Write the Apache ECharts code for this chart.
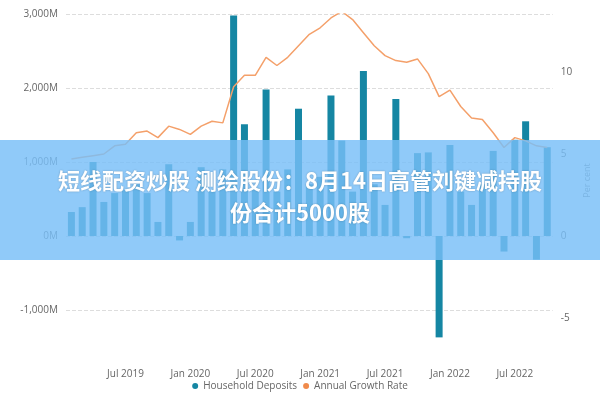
<!DOCTYPE html>
<html>
<head>
<meta charset="utf-8">
<script src="https://cdn.jsdelivr.net/npm/echarts@6/dist/echarts.min.js"></script>
<style>html,body{margin:0;padding:0;background:#fff}#chart{width:600px;height:400px}</style>
</head>
<body>
<div id="chart"></div>
<script>
// months Feb 2019 .. Oct 2022
const monthNames = ['Jan','Feb','Mar','Apr','May','Jun','Jul','Aug','Sep','Oct','Nov','Dec'];
const months = [];
for (let i = 0; i < 45; i++) {
    const m = (1 + i) % 12;
    const y = 2019 + Math.floor((1 + i) / 12);
    months.push(monthNames[m] + ' ' + y);
}
// household deposits, millions
const deposits = [324, 390, 1000, 460, 580, 620, 700, 580, 190, 970, -60, 190, 930, 600, 900,
    2980, 1510, 650, 1980, 600, 900, 1720, 700, 800, 1900, 1290,
    600, 2230, 700, 420, 1850, -30, 1120, 1130, -1370, 1230, 600, 420, 700, 1150, -210, 1300, 1550, -320, 1200];
// annual growth rate, per cent
const growth = [4.7, 4.8, 4.9, 5.0, 5.5, 5.6, 6.3, 6.4, 6.0, 6.7, 6.5, 6.2, 6.7, 7.0, 6.9,
    9.1, 9.8, 9.8, 10.9, 10.4, 10.9, 11.6, 12.3, 12.7, 13.3, 13.7,
    13.2, 12.4, 11.6, 11.0, 10.7, 10.6, 10.8, 9.9, 8.5, 8.9, 7.9, 7.2, 7.1, 6.3, 5.4, 6.0, 5.8, 5.5, 5.4];
const leftTicks = [-1000, 0, 1000, 2000, 3000];
const rightTicks = [-5, 0, 5, 10];

const labelColor = '#666';
const chart = echarts.init(document.getElementById('chart'));
chart.setOption({
    backgroundColor: '#fff',
    animation: false,
    grid: { left: 66, right: 38, top: 14, bottom: 53 },
    legend: {
        bottom: 4,
        left: 'center',
        icon: 'circle',
        itemWidth: 6,
        itemHeight: 6,
        itemGap: 6,
        textStyle: { color: '#666', fontSize: 10, fontFamily: 'Open Sans' },
        data: ['Household Deposits', 'Annual Growth Rate']
    },
    xAxis: {
        type: 'category',
        data: months,
        axisLine: { show: false },
        axisTick: { show: false },
        axisLabel: {
            color: labelColor, fontSize: 10, fontFamily: 'Open Sans', margin: 22,
            interval: (i, v) => v.startsWith('Jan') || v.startsWith('Jul')
        }
    },
    yAxis: [
        {
            type: 'value', min: -1500, max: 3000,
            axisLine: { show: false },
            axisTick: { show: false, customValues: leftTicks },
            axisLabel: {
                customValues: leftTicks, color: labelColor, fontSize: 10, fontFamily: 'Open Sans',
                formatter: v => v.toLocaleString('en-US') + 'M'
            },
            splitLine: { show: true, lineStyle: { color: '#ddd', type: 'dashed' } }
        },
        {
            type: 'value', min: -6.77, max: 13.54,
            name: 'Per cent', nameLocation: 'middle', nameRotate: 90, nameGap: 22,
            nameTextStyle: { color: '#888', fontSize: 9, fontFamily: 'Open Sans' },
            axisLine: { show: false },
            axisTick: { show: false, customValues: rightTicks },
            axisLabel: { customValues: rightTicks, color: labelColor, fontSize: 10, fontFamily: 'Open Sans' },
            splitLine: { show: false }
        }
    ],
    series: [
        {
            name: 'Household Deposits', type: 'bar', data: deposits,
            barWidth: 7, itemStyle: { color: '#1586a3' }
        },
        {
            name: 'Annual Growth Rate', type: 'line', yAxisIndex: 1, data: growth,
            symbol: 'none', lineStyle: { color: '#f4a06a', width: 1.5 },
            itemStyle: { color: '#f08a4b' }
        }
    ],
    graphic: [
        {
            type: 'rect', left: 0, top: 140, shape: { width: 600, height: 120 },
            style: { fill: 'rgba(120,190,248,0.82)' }, z: 100
        },
        {
            type: 'text', left: 'center', top: 170, z: 101,
            style: {
                text: '短线配资炒股 测绘股份：8月14日高管刘键减持股',
                fill: '#fff', font: 'bold 22px "Noto Sans CJK SC"',
                textShadowColor: 'rgba(0,0,0,0.25)', textShadowBlur: 2
            }
        },
        {
            type: 'text', left: 'center', top: 202, z: 101,
            style: {
                text: '份合计5000股',
                fill: '#fff', font: 'bold 22px "Noto Sans CJK SC"',
                textShadowColor: 'rgba(0,0,0,0.25)', textShadowBlur: 2
            }
        }
    ]
});
</script>
</body>
</html>
